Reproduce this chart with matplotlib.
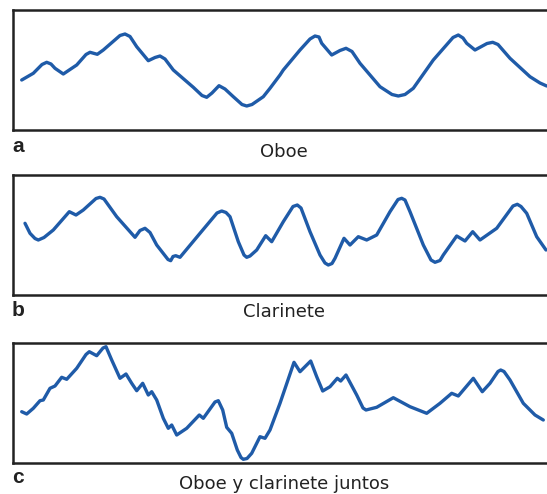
import matplotlib
matplotlib.use('Agg')
import matplotlib.pyplot as plt

# Oboe (a)
t_oboe = [21.7, 33.3, 42, 46.7, 51, 55.0, 63.3, 76.7, 86, 90.0, 97.3, 103.3, 120, 125.0, 130,
          136.7, 148.3, 155, 160.0, 165, 173.3, 193.3, 202, 206.7, 212, 219.0, 225, 233.3, 242,
          246.7, 252, 263.3, 270.0, 280.0, 283.3, 300.0, 310, 315.0, 319, 321.7, 331.7, 340,
          346.0, 352, 360.0, 380.0, 392, 398.3, 405, 413.3, 433.3, 453, 458.3, 463, 466.7, 475.0,
          487, 492.7, 498, 510.0, 530.0, 540, 546.7]
a_oboe = [-10.0, -3.3, 5.5, 7.7, 6, 1.7, -4.0, 5.0, 15.5, 17.7, 15.7, 20.0, 34.5, 36.0, 33.5,
          23.3, 9.3, 12.5, 14.0, 11, 0, -17.3, -25.5, -27.3, -23, -15.7, -19, -26.7, -34.5,
          -36.0, -34.5, -26.7, -18.3, -5.0, 0, 20, 31, 34, 33, 26.7, 15, 19.5,
          21.7, 18.5, 6.7, -16.7, -24.5, -26, -24.5, -18.3, 10, 32.5, 35, 32, 26.7, 20,
          26.5, 27.7, 25.5, 11.7, -6.7, -13, -16]

# Clarinete (b)
t_clar = [25.0, 30.0, 35, 38.3, 44, 53.3, 69.3, 76.0, 83.3, 96, 100.0, 104, 116.7, 135.0, 140,
          145.0, 150, 156.7, 168, 170.7, 173, 175.7, 180.0, 200.0, 217, 221.7, 226, 230.0, 238.3,
          244, 246.7, 250, 256.7, 265.7, 271.7, 283.3, 293, 297.3, 301, 310.0, 320.0, 325,
          328.3, 332, 335.0, 344.0, 350.0, 358.3, 366.7, 376.7, 390.0, 398, 401.7, 405, 410.0,
          423.3, 431, 435.0, 440, 443.3, 456.7, 465.0, 472.7, 480.0, 496.7, 513, 517.3, 521,
          526.7, 536.7, 546.0]
a_clar = [11.2, 1.2, -4, -5.5, -3, 4.5, 22.8, 19.5, 24.5, 36, 37.2, 35.5, 17.8, -2.8, 4,
          6.2, 2, -10.5, -25, -26.2, -22, -21.2, -22.8, 1.2, 21.5, 23.5, 22, 17.8, -7.2,
          -20.5, -22.8, -21.5, -15.5, -1.2, -7.2, 12.8, 28, 29.5, 26.5, 2.8, -20.5, -28.5,
          -30.5, -29, -23.8, -3.8, -10.5, -2.2, -5.5, -0.5, 22.8, 35, 36.2, 34.5, 22.8,
          -10.5, -25.5, -27.8, -26, -20.5, -1.5, -6.5, 2.8, -5.5, 6.2, 28.5, 30.2, 28,
          21.2, -2.2, -15.5]

# Oboe y clarinete juntos (c)
t_junt = [21.7, 26.7, 33.3, 40.0, 43.3, 50.0, 55.0, 61.7, 66.7, 76.7, 86, 89.3, 96.7, 103,
          106.0, 111.7, 120.0, 126.0, 131.7, 136.7, 142.7, 148.3, 151.7, 156.7, 163.3, 168.3,
          171.7, 176.7, 186.7, 199.3, 203.3, 215, 218.3, 222.7, 226.7, 231.7, 237.3, 241,
          243.3, 247, 251.7, 260.0, 265.0, 270.0, 280.0, 294.0, 300.0, 310.7, 316.7, 322.7,
          330.0, 337.3, 340.7, 346.0, 356.7, 363, 366.0, 376.7, 393.3, 410.0, 426.7, 440.0,
          451.7, 458.3, 473.3, 482.3, 490.0, 498, 500.7, 504, 510.0, 523.3, 535.0, 543.3]
a_junt = [-9.2, -11.5, -5.8, 1.8, 2.5, 14.2, 16.5, 25.2, 23.2, 34.2, 48, 50.8, 46.8, 54.5,
          55.8, 42.5, 24.2, 28.5, 19.2, 11.8, 19.2, 7.5, 10.8, 2.5, -15.8, -25.8,
          -22.5, -32.5, -25.8, -12.5, -15.8, 0.5, 1.8, -7.5, -24.8, -30.8, -47.5, -55,
          -56.8, -56, -50.8, -34.2, -35.8, -27.5, -0.8, 40.2, 30.8, 41.5, 25.8, 11.5,
          15.8, 24.2, 21.5, 27.5, 7.5, -5.5, -7.5, -4.8, 4.8, -4.2, -10.8, -0.8,
          9.2, 6.5, 24.2, 10.8, 19.2, 31, 32.5, 31, 22.5, -0.8, -12.5, -17.5]

etiquetas = ['a', 'b', 'c']
titulos = ['Oboe', 'Clarinete', 'Oboe y clarinete juntos']
series = [(t_oboe, a_oboe), (t_clar, a_clar), (t_junt, a_junt)]

W, H = 547, 494
fig = plt.figure(figsize=(W / 100, H / 100), dpi=100)

# caja superior, caja inferior (en pixeles de la imagen)
cajas = [(10, 130), (174.5, 294.5), (342.5, 462.5)]
letra_y = [146, 311, 477]
titulo_y = [152, 312, 484]

for i, (t, a) in enumerate(series):
    top, bot = cajas[i]
    ax = fig.add_axes([13 / W, 1 - bot / H, (565 - 13) / W, (bot - top) / H])
    ax.plot(t, a, color='#1f5ba8', lw=2.4, solid_joinstyle='round', solid_capstyle='round')
    ax.set_xlim(13, 565)
    ax.set_ylim(-60, 60)
    ax.set_xticks([])
    ax.set_yticks([])
    for s in ax.spines.values():
        s.set_linewidth(1.8)
        s.set_color('#222222')

    fig.text(12 / W, 1 - letra_y[i] / H, etiquetas[i], fontsize=15, fontweight='bold',
             family='Liberation Sans', color='#222222', ha='left', va='center')
    fig.text(284 / W, 1 - titulo_y[i] / H, titulos[i], fontsize=13,
             family='DejaVu Sans', color='#222222', ha='center', va='center')

fig.savefig('out.png', dpi=100)
